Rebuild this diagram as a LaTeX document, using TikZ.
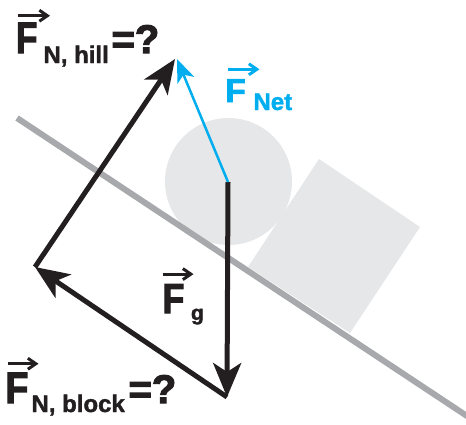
\documentclass[tikz,border=0pt]{standalone}
\usepackage{fontspec}
\setmainfont{Liberation Sans}
\newfontfamily\heavy[FakeBold=1.6]{Liberation Sans Bold}
\newfontfamily\heavier[FakeBold=2.8]{Liberation Sans Bold}
\usepackage{graphicx}
\usetikzlibrary{arrows.meta,calc}
\definecolor{inkblack}{RGB}{35,31,32}
\definecolor{netblue}{RGB}{0,174,239}
\definecolor{inclinegray}{RGB}{167,169,172}
\definecolor{shapegray}{RGB}{230,231,232}
\begin{document}
\begin{tikzpicture}[x=1pt,y=-1pt,
  force/.style={line width=5pt, draw=inkblack, fill=inkblack,
    -{Stealth[length=34pt,width=28pt,inset=9pt]}},
  netforce/.style={line width=2.5pt, draw=netblue, fill=netblue,
    -{Stealth[length=23pt,width=18pt,inset=6pt]}},
  lab/.style={inner sep=0pt, outer sep=0pt, anchor=base west, font=\heavy},
  bigF/.style={lab, font=\heavier\fontsize{44}{44}\selectfont},
  subtxt/.style={lab, font=\heavy\fontsize{24}{24}\selectfont},
  eqq/.style={lab, font=\heavier\fontsize{40}{40}\selectfont},
  vecar/.style={line width=3pt, -{Straight Barb[length=8pt,width=11pt,line width=3pt]}}
]
\useasboundingbox (0,0) rectangle (466,424);

% objects
\fill[shapegray] (228.5,181.5) circle (63.5);
\coordinate (sq1) at (319,159);
\coordinate (sq2) at (420,227);
\coordinate (sq3) at (350,333);
\coordinate (sq4) at (248,267);
\fill[shapegray] (sq1) -- (sq2) -- (sq3) -- (sq4) -- cycle;

% incline
\coordinate (inc1) at (17,118);
\coordinate (inc2) at (470,418);
\draw[inclinegray, line width=6pt] (inc1) -- (inc2);

% vector points
\coordinate (ctr) at (228,182);
\coordinate (bot) at (227,397);
\coordinate (lft) at (35,267);
\coordinate (apexK) at (175,59);
\coordinate (apexB) at (177,59);

\draw[force] (ctr) -- (bot);
\draw[force] (bot) -- (lft);
\draw[force] (lft) -- (apexK);
\draw[netforce] (ctr) -- (apexB);

% label F_N,hill
\node[bigF, text=inkblack] (hillF) at (16,53) {\scalebox{0.8}[1]{F}};
\node[subtxt, text=inkblack] (hillS) at (43.5,63) {N, hill};
\node[eqq, text=inkblack] (hillE) at (111.5,53) {=?};
\draw[vecar, inkblack] ($(hillF.north west)+(2,-7)$) -- ($(hillF.north west)+(34,-7)$);

% label F_Net
\node[lab, text=netblue, font=\heavier\fontsize{33}{33}\selectfont] (netF) at (225.5,102) {F};
\node[subtxt, text=netblue] (netS) at (253.5,110) {Net};
\draw[vecar, netblue] ($(netF.north west)+(2,-10)$) -- ($(netF.north west)+(34,-10)$);

% label F_g
\node[bigF, text=inkblack, font=\heavier\fontsize{42}{42}\selectfont] (gF) at (162.5,313) {\scalebox{0.85}[1]{F}};
\node[lab, text=inkblack, font=\heavy\fontsize{21}{21}\selectfont] (gS) at (191,320) {g};
\draw[vecar, inkblack] ($(gF.north west)+(0,-10)$) -- ($(gF.north west)+(31,-10)$);

% label F_N,block
\node[bigF, text=inkblack] (blkF) at (5.5,403) {\scalebox{0.85}[1]{F}};
\node[subtxt, text=inkblack] (blkS) at (31.5,412) {N, block};
\draw[vecar, inkblack] ($(blkF.north west)+(2,-9)$) -- ($(blkF.north west)+(33,-9)$);
\node[eqq, text=inkblack] (blkE) at (128.5,403) {=?};
\end{tikzpicture}
\end{document}
